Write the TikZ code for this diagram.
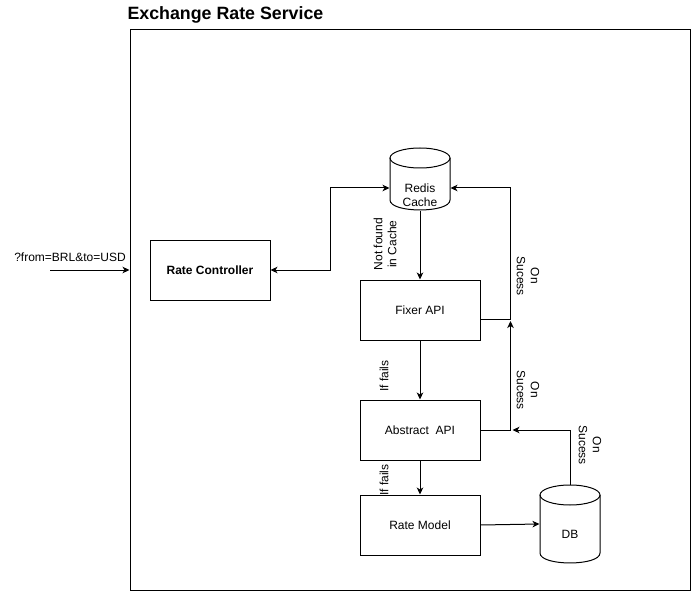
\documentclass[tikz,border=0pt]{standalone}
\usepackage{fontspec}
\setmainfont{Liberation Sans}
\usetikzlibrary{arrows.meta,calc}
\begin{document}
\begin{tikzpicture}[x=1pt,y=-1pt,
  line width=1pt,
  >={Stealth[length=7pt,width=6.5pt,inset=2pt]},
  box/.style={draw,line width=1pt,minimum width=120pt,minimum height=60pt,inner sep=0pt,align=center,font=\fontsize{12}{14}\selectfont},
  cylbox/.style={minimum width=60pt,inner sep=0pt},
  lbl/.style={align=center,font=\fontsize{12}{14}\selectfont,inner sep=0pt}]
\useasboundingbox (0,0) rectangle (691,591);

% frame and title
\node[draw,minimum width=560pt,minimum height=560pt,inner sep=0pt] (frame) at (410,310) {};
\node[anchor=west,inner sep=0pt,font=\fontsize{17.8}{20}\selectfont\bfseries] (title) at (127,15) {Exchange Rate Service};

% boxes
\node[box,font=\fontsize{12}{14}\selectfont\bfseries] (ctrl) at (210,270) {Rate Controller};
\node[box] (fixer) at (420,310) {Fixer API};
\node[box] (abstract) at (420,430) {Abstract~ API};
\node[box] (model) at (420,525) {Rate Model};

% cylinders (named anchor boxes + outline)
\node[cylbox,minimum height=62pt] (redis) at (420,179) {};
\draw (390,158) -- (390,200) .. controls (390,213.3) and (450,213.3) .. (450,200) -- (450,158);
\draw (420,158) ellipse [x radius=30, y radius=10];
\node[lbl] (redistxt) at (420,195) {Redis\\Cache};

\node[cylbox,minimum height=78pt] (db) at (570,524) {};
\draw (540,495) -- (540,553) .. controls (540,566.3) and (600,566.3) .. (600,553) -- (600,495);
\draw (570,495) ellipse [x radius=30, y radius=10];
\node[lbl] (dbtxt) at (570,534) {DB};

% input
\coordinate (in) at (50,270);
\draw[->] (in) -- (frame.west |- in);
\node[lbl] (inlbl) at (70,257) {?from=BRL\&to=USD};

% connectors
\coordinate (rl) at ($(redis.west)+(0,9)$);
\coordinate (rr) at ($(redis.east)+(0,9)$);
\coordinate (fx) at ($(fixer.east)+(0,9)$);
\coordinate (jf) at ($(fx)+(30,0)$);
\coordinate (ja) at ($(abstract.east)+(32,0)$);

\draw[<->] (ctrl.east) -- (330,270) |- (rl);
\draw[->] (redis.south) -- (fixer.north);
\draw[->] (fx) -- (jf) |- (rr);
\draw[->] (abstract.east) -| ($(jf)+(0,2)$);
\draw[->] (fixer.south) -- (abstract.north);
\draw[->] (abstract.south) -- (model.north);
\draw[->] (model.east) -- (db.west);
\draw[->] (db.north) |- (ja);

% labels
\node[lbl,rotate=90] (l1) at (385,244) {Not found\\in Cache};
\node[lbl,rotate=-90] (l2) at (528,276) {On\\Sucess};
\node[lbl,rotate=-90] (l3) at (528,390) {On\\Sucess};
\node[lbl,rotate=-90] (l4) at (590,445) {On\\Sucess};
\node[lbl,rotate=90] (l5) at (384,376) {If fails};
\node[lbl,rotate=90] (l6) at (384,480) {If fails};
\end{tikzpicture}
\end{document}
